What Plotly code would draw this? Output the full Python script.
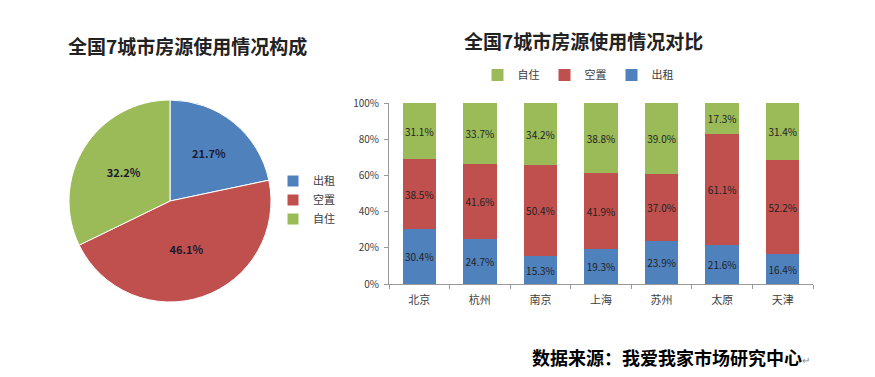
import plotly.graph_objects as go

# ---- data ----
pie_labels = ["出租", "空置", "自住"]
pie_values = [21.7, 46.1, 32.2]

cities = ["北京", "杭州", "南京", "上海", "苏州", "太原", "天津"]
rent = [30.4, 24.7, 15.3, 19.3, 23.9, 21.6, 16.4]
vacant = [38.5, 41.6, 50.4, 41.9, 37.0, 61.1, 52.2]
selfuse = [31.1, 33.7, 34.2, 38.8, 39.0, 17.3, 31.4]
y_ticks = [0, 20, 40, 60, 80, 100]
y_tick_labels = ["0%", "20%", "40%", "60%", "80%", "100%"]

BLUE = "#4F81BD"
RED = "#C0504D"
GREEN = "#9BBB59"
FONT = "Noto Sans CJK SC"

W, H = 875, 377

def px_x(x):
    return x / W

def px_y(y):
    return 1 - y / H

fig = go.Figure()

fig.add_trace(go.Pie(
    labels=pie_labels, values=pie_values,
    marker=dict(colors=[BLUE, RED, GREEN], line=dict(color="white", width=1)),
    sort=False, direction="clockwise", rotation=0,
    texttemplate="<b>%{value:.1f}%</b>", textposition="inside",
    insidetextorientation="horizontal",
    textfont=dict(family=FONT, size=11, color="#1a1a2e"),
    domain=dict(x=[px_x(68), px_x(272)], y=[px_y(302), px_y(100)]),
    legend="legend", hoverinfo="label+value",
))

for name, vals, col in [("出租", rent, BLUE), ("空置", vacant, RED), ("自住", selfuse, GREEN)]:
    fig.add_trace(go.Bar(
        x=cities, y=vals, name=name, marker=dict(color=col, line=dict(width=0)),
        texttemplate="%{y:.1f}%", textposition="inside", insidetextanchor="middle",
        textangle=0, constraintext="none",
        textfont=dict(family=FONT, size=10, color="#222222"),
        legend="legend2",
    ))

fig.update_layout(
    width=W, height=H,
    margin=dict(l=0, r=0, t=0, b=0, autoexpand=False),
    paper_bgcolor="white", plot_bgcolor="white",
    barmode="stack", bargap=0.45,
    font=dict(family=FONT, color="#404040"),
    xaxis=dict(domain=[px_x(389), px_x(813)], showline=True, linecolor="#999999",
               ticks="outside", tickson="boundaries", ticklen=4, tickcolor="#999999",
               tickfont=dict(size=11, color="#404040"), showgrid=False, fixedrange=True,
               automargin=False, ticklabelstandoff=6),
    yaxis=dict(domain=[px_y(284), px_y(103)], range=[0, 100], tickvals=y_ticks,
               ticktext=y_tick_labels, showline=True, linecolor="#999999",
               ticks="outside", ticklen=4, tickcolor="#999999", showgrid=False,
               tickfont=dict(size=10, color="#404040"), zeroline=False,
               automargin=False, ticklabelstandoff=3),
    legend=dict(x=px_x(273), y=px_y(200), xanchor="left", yanchor="middle",
                orientation="v", font=dict(size=11, color="#404040"),
                itemwidth=30, tracegroupgap=0, bgcolor="rgba(0,0,0,0)"),
    legend2=dict(x=px_x(578), y=px_y(75), xanchor="center", yanchor="middle",
                 orientation="h", traceorder="reversed",
                 font=dict(size=11, color="#404040"), bgcolor="rgba(0,0,0,0)"),
    showlegend=True,
    annotations=[
        dict(text="<b>全国7城市房源使用情况构成</b>", x=px_x(187), y=px_y(45),
             xref="paper", yref="paper", showarrow=False, xanchor="center",
             yanchor="middle",
             font=dict(family=FONT, size=19, color="#222222")),
        dict(text="<b>全国7城市房源使用情况对比</b>", x=px_x(583), y=px_y(40),
             xref="paper", yref="paper", showarrow=False, xanchor="center",
             yanchor="middle",
             font=dict(family=FONT, size=19, color="#222222")),
        dict(text="<b>数据来源：我爱我家市场研究中心</b>", x=px_x(530), y=px_y(357),
             xref="paper", yref="paper", showarrow=False, xanchor="left",
             yanchor="middle",
             font=dict(family=FONT, size=18, color="#000000")),
        dict(text="↵", x=px_x(800), y=px_y(359),
             xref="paper", yref="paper", showarrow=False, xanchor="left",
             yanchor="middle",
             font=dict(family=FONT, size=10, color="#888888")),
    ],
)

fig.write_html("out.html", config={"displayModeBar": False},
               post_script="document.body.style.margin='0';")
